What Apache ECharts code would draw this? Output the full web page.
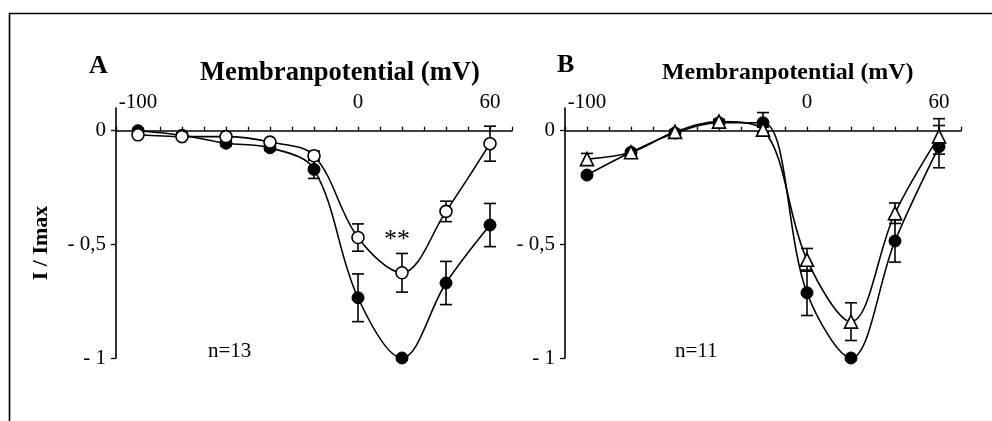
<!DOCTYPE html>
<html>
<head>
<meta charset="utf-8">
<script src="https://cdn.jsdelivr.net/npm/echarts@6/dist/echarts.min.js"></script>
<style>
  html, body { margin: 0; padding: 0; background: #fff; }
  #chart { width: 992px; height: 421px; }
</style>
</head>
<body>
<div id="chart"></div>
<script>
// Test potentials (mV)
const voltages = [-100, -80, -60, -40, -20, 0, 20, 40, 60];

// Panel A: normalised current, control (filled) and treated (open circles)
const aControl    = [0.0, -0.02, -0.055, -0.075, -0.17, -0.735, -1.0, -0.67, -0.415];
const aControlErr = [0.01, 0.01, 0.012, 0.012, 0.04, 0.105, 0.01, 0.095, 0.095];
const aOpen       = [-0.018, -0.026, -0.026, -0.05, -0.11, -0.47, -0.625, -0.355, -0.057];
const aOpenErr    = [0.01, 0.01, 0.01, 0.01, 0.02, 0.06, 0.085, 0.045, 0.077];

// Panel B: control (filled) and treated (open triangles)
const bControl    = [-0.195, -0.095, -0.01, 0.035, 0.035, -0.713, -1.0, -0.485, -0.07];
const bControlErr = [0.01, 0.01, 0.01, 0.01, 0.045, 0.1, 0.01, 0.093, 0.093];
const bTri        = [-0.125, -0.095, -0.005, 0.04, 0.005, -0.568, -0.84, -0.363, -0.025];
const bTriErr     = [0.025, 0.01, 0.01, 0.01, 0.01, 0.05, 0.083, 0.045, 0.078];

// Axis labels
const xLabelValues = [-100, 0, 60];
const yLabelValues = [0, -0.5, -1];
const yLabelText = { '0': '0', '-0.5': '- 0,5', '-1': '- 1' };

const SERIF = "'Liberation Serif', 'Times New Roman', serif";

const chart = echarts.init(document.getElementById('chart'), null, { renderer: 'canvas' });

function pairs(vals) {
  return voltages.map((v, i) => [v, vals[i]]);
}

function errorBars(idx, vals, errs) {
  return {
    type: 'custom',
    xAxisIndex: idx,
    yAxisIndex: idx,
    z: 2,
    silent: true,
    encode: { x: 0, y: [1, 2] },
    data: voltages.map((v, i) => [v, vals[i] - errs[i], vals[i] + errs[i]]),
    renderItem(params, api) {
      const x = api.value(0);
      const lo = api.coord([x, api.value(1)]);
      const hi = api.coord([x, api.value(2)]);
      const hw = 6;
      const st = { stroke: '#000', lineWidth: 1.6 };
      return {
        type: 'group',
        children: [
          { type: 'line', shape: { x1: lo[0], y1: lo[1], x2: hi[0], y2: hi[1] }, style: st },
          { type: 'line', shape: { x1: lo[0] - hw, y1: lo[1], x2: lo[0] + hw, y2: lo[1] }, style: st },
          { type: 'line', shape: { x1: hi[0] - hw, y1: hi[1], x2: hi[0] + hw, y2: hi[1] }, style: st }
        ]
      };
    }
  };
}

function curve(idx, vals, symbol, filled, extra) {
  return Object.assign({
    type: 'line',
    xAxisIndex: idx,
    yAxisIndex: idx,
    z: 3,
    data: pairs(vals),
    smooth: 0.35,
    symbol: symbol,
    symbolSize: symbol === 'triangle' ? 13 : 12,
    showSymbol: true,
    lineStyle: { color: '#000', width: 1.6 },
    itemStyle: filled
      ? { color: '#000', borderColor: '#000', borderWidth: 1 }
      : { color: '#fff', borderColor: '#000', borderWidth: 1.6 },
    emphasis: { disabled: true }
  }, extra || {});
}

function xAxis(idx) {
  return {
    type: 'value',
    gridIndex: idx,
    position: 'top',
    min: -110,
    max: 70,
    interval: 10,
    axisLine: { onZero: true, lineStyle: { color: '#000', width: 1.6 } },
    axisTick: { show: true, length: 4, lineStyle: { color: '#000', width: 1.3 } },
    axisLabel: {
      customValues: xLabelValues,
      margin: -5,
      color: '#000',
      fontFamily: SERIF,
      fontSize: 21
    },
    splitLine: { show: false }
  };
}

function yAxis(idx, name) {
  return {
    type: 'value',
    gridIndex: idx,
    min: -1,
    max: 0.1,
    name: name,
    nameLocation: 'middle',
    nameRotate: 90,
    nameGap: 64,
    nameTextStyle: {
      color: '#000', fontFamily: SERIF, fontWeight: 'bold', fontSize: 22,
      padding: [0, 20, 0, 0]
    },
    axisLine: { show: true, onZero: false, lineStyle: { color: '#000', width: 1.6 } },
    axisTick: { show: true, length: 5, customValues: yLabelValues, lineStyle: { color: '#000', width: 1.3 } },
    axisLabel: {
      customValues: yLabelValues,
      margin: 10,
      color: '#000',
      fontFamily: SERIF,
      fontSize: 21,
      formatter: v => yLabelText[String(Math.round(v * 10) / 10)] || ''
    },
    splitLine: { show: false }
  };
}

const textStyleBold = (size) => ({ fontFamily: SERIF, fontWeight: 'bold', fontSize: size, color: '#000' });
const textStyleNorm = (size) => ({ fontFamily: SERIF, fontWeight: 'normal', fontSize: size, color: '#000' });

chart.setOption({
  animation: false,
  backgroundColor: '#fff',
  title: [
    { text: 'A', left: 89, top: 53, padding: 0, textStyle: textStyleBold(26) },
    { text: 'Membranpotential (mV)', left: 200, top: 60, padding: 0, textStyle: textStyleBold(26.6) },
    { text: 'B', left: 557, top: 52, padding: 0, textStyle: textStyleBold(26) },
    { text: 'Membranpotential (mV)', left: 662, top: 61, padding: 0, textStyle: textStyleBold(23.9) },
    { text: 'n=13', left: 208, top: 341, padding: 0, textStyle: textStyleNorm(21) },
    { text: 'n=11', left: 675, top: 341, padding: 0, textStyle: textStyleNorm(21) }
  ],
  graphic: [
    {
      type: 'polyline',
      silent: true,
      shape: { points: [[9.5, 421], [9.5, 13.5], [992, 13.5]] },
      style: { stroke: '#000', lineWidth: 1.6, fill: null }
    }
  ],
  grid: [
    { left: 116, top: 108, width: 396, height: 250 },
    { left: 565, top: 108, width: 396, height: 250 }
  ],
  xAxis: [xAxis(0), xAxis(1)],
  yAxis: [yAxis(0, 'I / Imax'), yAxis(1, '')],
  series: [
    errorBars(0, aControl, aControlErr),
    errorBars(0, aOpen, aOpenErr),
    curve(0, aControl, 'circle', true),
    curve(0, aOpen, 'circle', false, {
      data: pairs(aOpen).map((p, i) => voltages[i] === 20
        ? { value: p, label: { show: true, formatter: '**', position: 'top', distance: 13, offset: [-5, 0], fontFamily: SERIF, fontSize: 26, color: '#000' } }
        : p)
    }),
    errorBars(1, bControl, bControlErr),
    errorBars(1, bTri, bTriErr),
    curve(1, bControl, 'circle', true),
    curve(1, bTri, 'triangle', false)
  ]
});
</script>
</body>
</html>
